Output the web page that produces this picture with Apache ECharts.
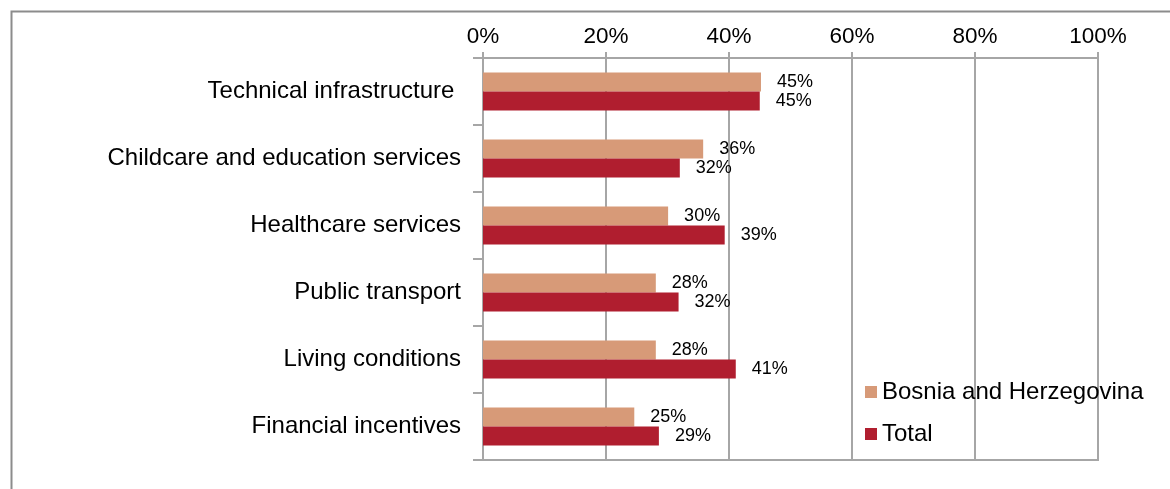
<!DOCTYPE html>
<html>
<head>
<meta charset="utf-8">
<style>
html,body{margin:0;padding:0;background:#fff;overflow:hidden;}
#chart{width:1170px;height:489px;}
</style>
<script src="https://cdn.jsdelivr.net/npm/echarts@6/dist/echarts.min.js"></script>
</head>
<body>
<div id="chart"></div>
<script>
const categories = ["Technical infrastructure ", "Childcare and education services", "Healthcare services", "Public transport", "Living conditions", "Financial incentives"];
const seriesNames = ["Bosnia and Herzegovina", "Total"];
const bihValues = [45.2, 35.8, 30.1, 28.1, 28.1, 24.6];
const totalValues = [45.0, 32.0, 39.3, 31.8, 41.1, 28.6];
const xTicks = [0, 20, 40, 60, 80, 100];

const FONT = "Liberation Sans, Arial, sans-serif";
const GRID = "#A6A6A6";
const chart = echarts.init(document.getElementById('chart'), null, {renderer: 'canvas'});
const labelCfg = {
  show: true, position: 'right', distance: 16, color: '#000',
  fontFamily: FONT, fontSize: 18,
  formatter: p => Math.round(p.value) + '%'
};
chart.setOption({
  animation: false,
  backgroundColor: '#fff',
  graphic: [{
    type: 'rect', left: 9, top: 9, silent: true,
    shape: {width: 1300, height: 700},
    style: {fill: 'none', stroke: '#8C8C8C', lineWidth: 2}
  }],
  grid: {left: 483, right: 72, top: 58, bottom: 29, show: true, borderColor: GRID, borderWidth: 2, backgroundColor: 'transparent'},
  legend: {
    orient: 'vertical', left: 860, top: 375,
    itemWidth: 12, itemHeight: 12, itemGap: 18,
    icon: 'rect',
    textStyle: {fontFamily: FONT, fontSize: 24, color: '#000', padding: [0,0,0,0]},
    data: seriesNames
  },
  xAxis: {
    type: 'value', position: 'top', min: xTicks[0], max: xTicks[xTicks.length-1], interval: 20,
    axisLine: {show: true, lineStyle: {color: GRID, width: 2}},
    axisTick: {show: true, length: 6, lineStyle: {color: GRID, width: 2}},
    splitLine: {show: true, lineStyle: {color: GRID, width: 2}},
    axisLabel: {formatter: v => v + '%', fontFamily: FONT, fontSize: 22.5, color: '#000', margin: 10}
  },
  yAxis: {
    type: 'category', inverse: true, data: categories,
    axisLine: {show: true, lineStyle: {color: GRID, width: 2}},
    axisTick: {show: true, length: 10, lineStyle: {color: GRID, width: 2}},
    axisLabel: {fontFamily: FONT, fontSize: 24, color: '#000', margin: 22}
  },
  series: [
    {name: seriesNames[0], type: 'bar', data: bihValues, barWidth: 19, barGap: '0%',
     itemStyle: {color: '#D79A78'}, label: labelCfg},
    {name: seriesNames[1], type: 'bar', data: totalValues, barWidth: 19, barGap: '0%',
     itemStyle: {color: '#B01E2F'}, label: labelCfg}
  ]
});
</script>
</body>
</html>
